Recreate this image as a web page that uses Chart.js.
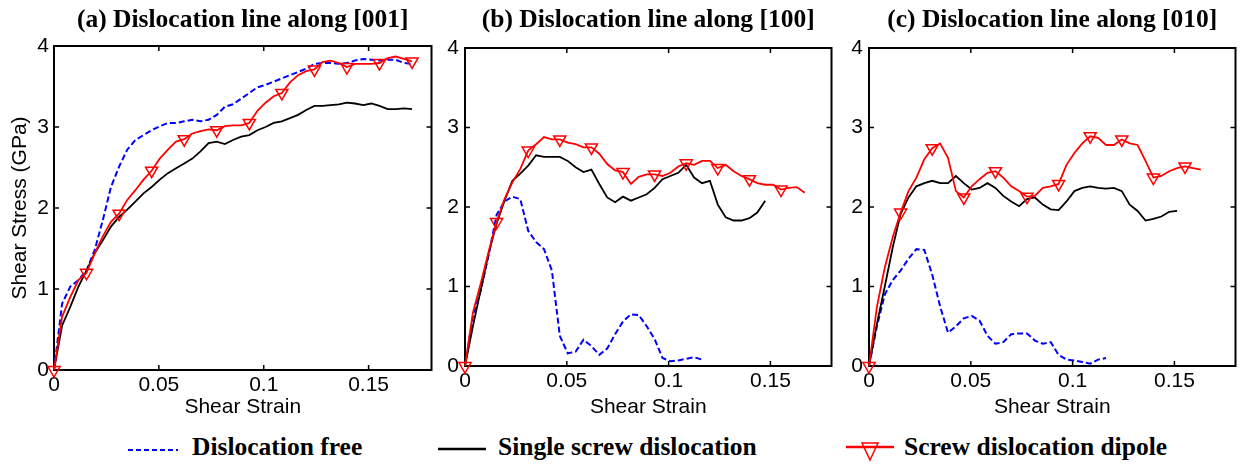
<!DOCTYPE html>
<html>
<head>
<meta charset="utf-8">
<script src="https://cdn.jsdelivr.net/npm/chart.js@4.4.1/dist/chart.umd.min.js"></script>
<style>
  html, body { margin: 0; padding: 0; background: #fff; }
  #page { position: relative; width: 1244px; height: 464px; overflow: hidden; }
  #page canvas { position: absolute; top: 0; }
  .leg { position: absolute; top: 433px; height: 28px; line-height: 28px; white-space: nowrap;
         font-family: "Liberation Serif", "Times New Roman", serif; font-weight: bold; font-size: 25.5px; color: #000; }
  .sym { position: absolute; top: 437px; }
</style>
</head>
<body>
<div id="page">
  <svg class="sym" style="left:126px" width="54" height="26"><line x1="2" y1="13" x2="52" y2="13" stroke="#0000ff" stroke-width="2" stroke-dasharray="5 3"/></svg>
  <div class="leg" style="left:192px">Dislocation free</div>
  <svg class="sym" style="left:436px" width="52" height="26"><line x1="2" y1="12" x2="50" y2="12" stroke="#000" stroke-width="2.5"/></svg>
  <div class="leg" style="left:498px">Single screw dislocation</div>
  <svg class="sym" style="left:844px" width="52" height="26"><line x1="2" y1="10" x2="50" y2="10" stroke="#ff0000" stroke-width="2.5"/><polygon points="18,6 34,6 26,23" fill="none" stroke="#ff0000" stroke-width="1.5"/></svg>
  <div class="leg" style="left:904px">Screw dislocation dipole</div>
</div>
<script>
// shared strain grid (markers on the dipole curve fall on every 4th point)
const strain = [0, 0.00388, 0.00776, 0.01164, 0.01552, 0.0194, 0.02328, 0.02716, 0.03104, 0.03492,
  0.0388, 0.04268, 0.04656, 0.05044, 0.05432, 0.0582, 0.06208, 0.06596, 0.06984, 0.07372,
  0.0776, 0.08148, 0.08536, 0.08924, 0.09312, 0.097, 0.10088, 0.10476, 0.10864, 0.11252,
  0.1164, 0.12028, 0.12416, 0.12804, 0.13192, 0.1358, 0.13968, 0.14356, 0.14744, 0.15132,
  0.1552, 0.15908, 0.16296, 0.16684, 0.17072];

const xTicks = [0, 0.05, 0.1, 0.15];
const yTicks = [0, 1, 2, 3, 4];
const seriesNames = ["Dislocation free", "Single screw dislocation", "Screw dislocation dipole"];

// (a) along [001]
const freeA = [0, 0.82, 1.03, 1.11, 1.23, 1.48, 1.85, 2.26, 2.51, 2.72, 2.84, 2.9, 2.96, 3.01, 3.05,
  3.05, 3.07, 3.09, 3.07, 3.09, 3.15, 3.25, 3.28, 3.35, 3.42, 3.49, 3.52, 3.56, 3.6, 3.64,
  3.68, 3.72, 3.78, 3.79, 3.79, 3.78, 3.79, 3.82, 3.84, 3.83, 3.82, 3.83, 3.83, 3.79, 3.78];
const singleA = [0, 0.55, 0.78, 1.03, 1.23, 1.44, 1.6, 1.77, 1.89, 1.98, 2.08, 2.18, 2.26, 2.35, 2.43,
  2.49, 2.55, 2.61, 2.7, 2.8, 2.82, 2.79, 2.84, 2.88, 2.9, 2.96, 3.0, 3.05, 3.07, 3.11,
  3.15, 3.21, 3.26, 3.26, 3.27, 3.28, 3.3, 3.29, 3.27, 3.29, 3.26, 3.22, 3.22, 3.23, 3.22];
const dipoleA = [0, 0.66, 0.9, 1.11, 1.2, 1.44, 1.65, 1.83, 1.93, 2.1, 2.22, 2.35, 2.46, 2.61, 2.72,
  2.82, 2.85, 2.92, 2.95, 2.97, 2.96, 3.01, 3.02, 3.02, 3.05, 3.2, 3.3, 3.38, 3.42, 3.55,
  3.64, 3.69, 3.71, 3.8, 3.82, 3.79, 3.74, 3.78, 3.78, 3.78, 3.79, 3.85, 3.87, 3.84, 3.81];

// (b) along [100]
const freeB = [0, 0.62, 0.95, 1.4, 1.9, 2.07, 2.13, 2.1, 1.7, 1.56, 1.47, 1.2, 0.38, 0.16, 0.18,
  0.33, 0.25, 0.14, 0.22, 0.4, 0.56, 0.65, 0.64, 0.5, 0.34, 0.1, 0.06, 0.07, 0.09, 0.11, 0.08];
const singleB = [0, 0.5, 0.96, 1.42, 1.79, 2.08, 2.33, 2.42, 2.52, 2.65, 2.63, 2.63, 2.63, 2.58, 2.5,
  2.44, 2.47, 2.29, 2.12, 2.06, 2.13, 2.08, 2.12, 2.16, 2.24, 2.35, 2.39, 2.43, 2.53, 2.37,
  2.3, 2.33, 2.03, 1.87, 1.83, 1.83, 1.86, 1.93, 2.08];
const dipoleB = [0, 0.67, 1.04, 1.44, 1.81, 2.1, 2.31, 2.48, 2.71, 2.79, 2.88, 2.85, 2.85, 2.81, 2.79,
  2.75, 2.75, 2.67, 2.54, 2.46, 2.44, 2.29, 2.38, 2.41, 2.41, 2.39, 2.43, 2.51, 2.55, 2.53,
  2.58, 2.58, 2.49, 2.53, 2.45, 2.39, 2.35, 2.3, 2.28, 2.28, 2.22, 2.24, 2.25, 2.18];

// (c) along [010]
const freeC = [0, 0.5, 0.9, 1.08, 1.2, 1.35, 1.47, 1.46, 1.15, 0.75, 0.42, 0.5, 0.6, 0.63, 0.57,
  0.38, 0.28, 0.3, 0.4, 0.41, 0.41, 0.32, 0.28, 0.3, 0.14, 0.08, 0.07, 0.05, 0.03, 0.08, 0.1];
const singleC = [0, 0.53, 1.0, 1.49, 1.91, 2.12, 2.26, 2.3, 2.33, 2.3, 2.3, 2.39, 2.3, 2.22, 2.24,
  2.3, 2.24, 2.14, 2.07, 2.01, 2.1, 2.12, 2.03, 1.97, 1.96, 2.07, 2.2, 2.24, 2.26, 2.24,
  2.23, 2.24, 2.2, 2.03, 1.95, 1.83, 1.85, 1.88, 1.94, 1.95];
const dipoleC = [0, 0.74, 1.24, 1.62, 1.93, 2.2, 2.37, 2.6, 2.74, 2.8, 2.62, 2.2, 2.12, 2.26, 2.35,
  2.43, 2.45, 2.37, 2.26, 2.2, 2.13, 2.14, 2.24, 2.26, 2.29, 2.53, 2.68, 2.8, 2.89, 2.87,
  2.78, 2.78, 2.85, 2.8, 2.78, 2.58, 2.37, 2.39, 2.45, 2.49, 2.51, 2.49, 2.47];

const panels = [
  { title: "(a) Dislocation line along [001]", free: freeA, single: singleA, dipole: dipoleA,
    left: 0, width: 440, area: { left: 54, right: 435, top: 46, bottom: 370 }, yTitle: true, yPad: 5 },
  { title: "(b) Dislocation line along [100]", free: freeB, single: singleB, dipole: dipoleB,
    left: 420, width: 420, area: { left: 45, right: 417, top: 48, bottom: 366 }, yTitle: false, yPad: 6 },
  { title: "(c) Dislocation line along [010]", free: freeC, single: singleC, dipole: dipoleC,
    left: 840, width: 404, area: { left: 29, right: 402, top: 48, bottom: 366 }, yTitle: false, yPad: 6 },
];

const H = 425;
const sansFont = { family: "Liberation Sans, Arial, sans-serif", size: 21 };
const titleSize = 25.5;

function pts(arr) {
  return arr.map((v, i) => ({ x: strain[i], y: v }));
}

// matlab style box with inward ticks on all four sides
const boxTicks = {
  id: "boxTicks",
  beforeDatasetsDraw(chart) {
    const { ctx, chartArea: a, scales: { x, y } } = chart;
    ctx.save();
    ctx.strokeStyle = "#000";
    ctx.lineWidth = 1.5;
    ctx.beginPath();
    x.ticks.forEach((t) => {
      const px = x.getPixelForValue(t.value);
      ctx.moveTo(px, a.bottom); ctx.lineTo(px, a.bottom - 5);
      ctx.moveTo(px, a.top); ctx.lineTo(px, a.top + 5);
    });
    y.ticks.forEach((t) => {
      const py = y.getPixelForValue(t.value);
      ctx.moveTo(a.left, py); ctx.lineTo(a.left + 5, py);
      ctx.moveTo(a.right, py); ctx.lineTo(a.right - 5, py);
    });
    ctx.stroke();
    ctx.lineWidth = 2;
    ctx.strokeRect(a.left, a.top, a.right - a.left, a.bottom - a.top);
    ctx.restore();
  },
};

function makeChart(p) {
  const canvas = document.createElement("canvas");
  canvas.width = p.width;
  canvas.height = H;
  canvas.style.left = p.left + "px";
  canvas.style.width = p.width + "px";
  canvas.style.height = H + "px";
  document.getElementById("page").appendChild(canvas);

  return new Chart(canvas, {
    type: "line",
    data: {
      datasets: [
        {
          label: seriesNames[2],
          data: pts(p.dipole),
          borderColor: "#ff0000",
          borderWidth: 1.8,
          pointStyle: "triangle",
          rotation: 180,
          pointRadius: (c) => (c.dataIndex % 4 === 0 ? 7 : 0),
          pointBorderColor: "#ff0000",
          pointBackgroundColor: "rgba(0,0,0,0)",
          pointBorderWidth: 1.5,
          clip: false,
          order: 0,
        },
        {
          label: seriesNames[1],
          data: pts(p.single),
          borderColor: "#000000",
          borderWidth: 1.8,
          pointRadius: 0,
          order: 1,
        },
        {
          label: seriesNames[0],
          data: pts(p.free),
          borderColor: "#0000ff",
          borderWidth: 2,
          borderDash: [6, 3],
          pointRadius: 0,
          order: 2,
        },
      ],
    },
    options: {
      responsive: false,
      animation: false,
      devicePixelRatio: 1,
      layout: { padding: { left: 0, right: p.width - p.area.right, top: 0, bottom: 0 } },
      plugins: {
        legend: { display: false },
        tooltip: { enabled: false },
        title: {
          display: true,
          text: p.title,
          fullSize: false,
          color: "#000",
          font: { family: "Liberation Serif, Times New Roman, serif", size: titleSize, weight: "bold" },
          padding: { top: 5, bottom: p.area.top - 5 - titleSize * 1.2 },
        },
      },
      elements: { line: { tension: 0 } },
      scales: {
        x: {
          type: "linear",
          min: 0,
          max: 0.18,
          afterBuildTicks: (s) => { s.ticks = xTicks.map((v) => ({ value: v })); },
          afterFit: (s) => { s.height = H - p.area.bottom; },
          ticks: { color: "#000", font: sansFont, padding: 3, maxRotation: 0, autoSkip: false,
                   callback: (v) => String(v) },
          grid: { display: false, drawTicks: false },
          border: { display: false },
          title: { display: true, text: "Shear Strain", color: "#000", font: sansFont,
                   padding: { top: 0, bottom: 5 } },
        },
        y: {
          min: 0,
          max: 4,
          afterBuildTicks: (s) => { s.ticks = yTicks.map((v) => ({ value: v })); },
          afterFit: (s) => { s.width = p.area.left; },
          ticks: { color: "#000", font: sansFont, padding: p.yPad, callback: (v) => String(v) },
          grid: { display: false, drawTicks: false },
          border: { display: false },
          title: { display: p.yTitle, text: "Shear Stress (GPa)", color: "#000", font: sansFont,
                   padding: { top: 8, bottom: 0 } },
        },
      },
    },
    plugins: [boxTicks],
  });
}

panels.forEach(makeChart);
</script>
</body>
</html>
